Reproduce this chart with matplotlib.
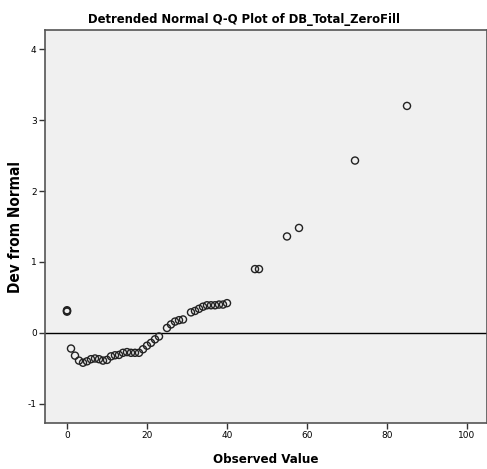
import matplotlib
matplotlib.use('Agg')
import matplotlib.pyplot as plt

plt.rcParams['axes.unicode_minus'] = False

observed = [0, 0, 0, 1, 2, 3, 4, 5, 6, 7, 8, 9, 10, 11, 12, 13, 14, 15, 16, 17, 18,
            19, 20, 21, 22, 23, 25, 26, 27, 28, 29, 31, 32, 33, 34, 35, 36, 37, 38,
            39, 40, 47, 48, 55, 58, 72, 85]
deviation = [0.31, 0.30, 0.32, -0.22, -0.32, -0.39, -0.42, -0.40, -0.37, -0.36, -0.37,
             -0.39, -0.38, -0.33, -0.315, -0.31, -0.28, -0.27, -0.28, -0.28, -0.28,
             -0.23, -0.18, -0.14, -0.09, -0.05, 0.07, 0.12, 0.16, 0.18, 0.19, 0.29,
             0.31, 0.34, 0.37, 0.39, 0.39, 0.39, 0.40, 0.40, 0.42, 0.90, 0.90, 1.36,
             1.48, 2.43, 3.20]

x_ticks = [0, 20, 40, 60, 80, 100]
y_ticks = [-1, 0, 1, 2, 3, 4]

fig = plt.figure(figsize=(4.87, 4.69), dpi=100)
ax = fig.add_axes([0.0924, 0.098, 0.9076, 0.838])
ax.set_facecolor('#f0f0f0')

ax.axhline(0, color='black', lw=1.0, zorder=1)
ax.scatter(observed, deviation, s=26, facecolors='none', edgecolors='#222222',
           linewidths=1.0, zorder=2)

ax.set_xlim(-5.5, 105)
ax.set_ylim(-1.27, 4.27)
ax.set_xticks(x_ticks)
ax.set_yticks(y_ticks)
ax.tick_params(labelsize=6.5, length=4, width=1, color='#333333', pad=2)

for s in ax.spines.values():
    s.set_color('#555555')
    s.set_linewidth(1.2)

# title is centred on the whole figure, not on the axes
fig.suptitle('Detrended Normal Q-Q Plot of DB_Total_ZeroFill', x=0.5, y=0.972,
             fontsize=9.3, fontweight='bold', fontstretch='condensed')
ax.set_xlabel('Observed Value', fontsize=9.5, fontweight='bold',
              fontstretch='condensed', labelpad=9)
ax.set_ylabel('Dev from Normal', fontsize=11, fontweight='bold',
              fontstretch='condensed')
ax.yaxis.set_label_coords(-0.05, 0.5)

fig.savefig('out.png', dpi=100, facecolor='white')
